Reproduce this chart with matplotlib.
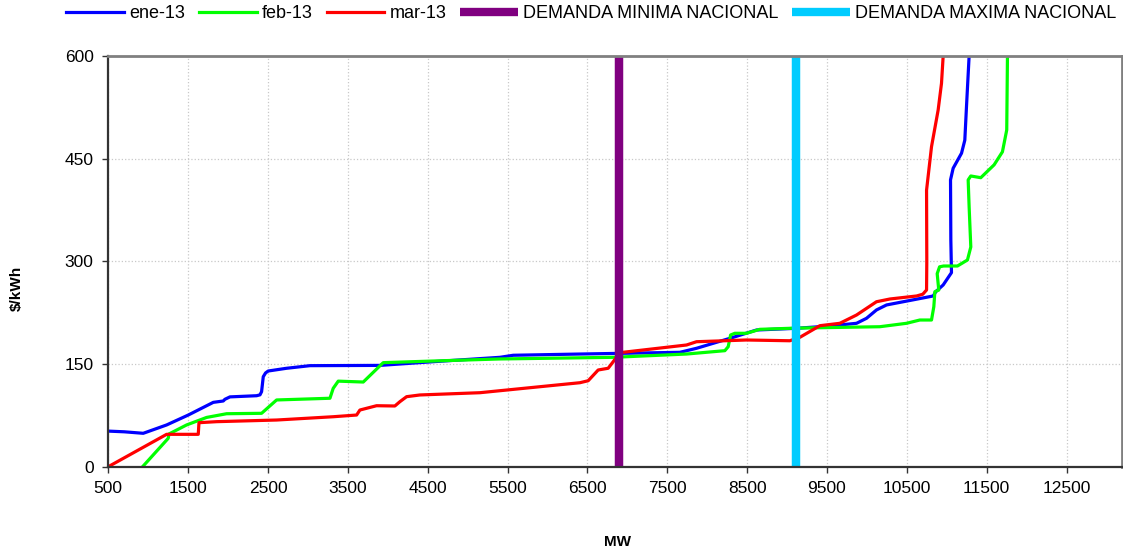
import matplotlib.pyplot as plt
from matplotlib.lines import Line2D

plt.rcParams['font.family'] = ['Liberation Sans', 'DejaVu Sans']

# curva de oferta por mes: MW acumulados vs precio ($/kWh)
ene_mw = [500, 700, 938, 1231, 1502, 1815, 1940, 1961, 2024, 2358, 2400, 2420, 2441, 2470, 2503, 2733,
          3025, 3902, 4569, 5404, 5571, 6406, 7658, 7867, 8325, 8618, 9119, 9536, 9870, 9995,
          10120, 10246, 10830, 10863, 10955, 11059, 11051, 11047, 11080, 11185, 11226, 11247, 11280]
ene_precio = [52, 51, 48.8, 61, 75.5, 94, 96, 98.5, 102, 103.7, 105, 109.6, 131.5, 137, 139.8, 143.8,
              147.6, 148, 153.4, 159.8, 162.8, 164.6, 167.1, 173, 189, 199.7, 202.2, 205.6, 209.5, 216.8,
              229, 236.3, 249.4, 255.7, 265.5, 283.5, 331, 419, 436, 458, 477, 526, 600]

feb_mw = [930, 1251, 1260, 1481, 1732, 1982, 2420, 2608, 3276, 3317, 3380, 3693, 3943, 4569,
          5404, 6823, 7741, 8221, 8263, 8293, 8346, 8493, 8659, 9119, 10162, 10496, 10663, 10809,
          10838, 10851, 10900, 10880, 10910, 10960, 11134, 11259, 11301, 11280, 11268, 11301, 11426,
          11593, 11697, 11751, 11760]
feb_precio = [0, 41.5, 47.8, 61, 72, 77.4, 78, 97.5, 100, 114.5, 125, 123.7, 152, 154.4,
              157.4, 159.8, 164.6, 169.5, 175.3, 192.4, 194.9, 194.9, 200.7, 202.5, 204.5, 209.5, 214.3, 214.3,
              233.8, 255.7, 258, 282, 292, 293.2, 293.2, 302, 321, 380, 419, 424.7, 422.2,
              441, 460, 492, 600]

mar_mw = [500, 1231, 1627, 1636, 1857, 2608, 3317, 3610, 3651, 3860, 4089, 4152, 4236, 4402,
          5154, 6406, 6510, 6635, 6760, 6823, 6906, 7741, 7867, 8493, 9035, 9160, 9411, 9661,
          9870, 10120, 10288, 10622, 10700, 10747, 10750, 10747, 10809, 10892, 10934, 10955]
mar_precio = [0, 47.3, 47.3, 64.3, 65.8, 68.2, 73, 75.5, 82.8, 89.1, 88.7, 95, 102.3, 104.8,
              108.1, 122.7, 125.6, 141.3, 143.8, 153.4, 166.6, 177.8, 182.6, 185.1, 184, 189, 206, 209.5,
              221.6, 241, 245, 249.4, 252, 258.2, 300, 404, 467.5, 521, 560, 600]

demanda_min = 6890
demanda_max = 9110

x_ticks = list(range(500, 13000, 1000))
y_ticks = [0, 150, 300, 450, 600]

fig = plt.figure(figsize=(11.23, 5.56), dpi=100)
ax = fig.add_axes([0.0964, 0.1606, 0.9024, 0.7387])

ax.plot(ene_mw, ene_precio, color='#0000FF', lw=2.3, label='ene-13')
ax.plot(feb_mw, feb_precio, color='#00FF00', lw=2.3, label='feb-13')
ax.plot(mar_mw, mar_precio, color='#FF0000', lw=2.3, label='mar-13')
ax.plot([demanda_min, demanda_min], [0, 600], color='#800080', lw=6.1, solid_capstyle='butt')
ax.plot([demanda_max, demanda_max], [0, 600], color='#00CCFF', lw=6.1, solid_capstyle='butt')

ax.set_xlim(500, 13190)
ax.set_ylim(0, 600)
ax.set_xticks(x_ticks)
ax.set_yticks(y_ticks)
ax.tick_params(labelsize=12.5, direction='out', length=4.5, width=1, color='#333333', pad=6)
ax.grid(True, color='#c8c8c8', ls=':', lw=0.9)
ax.set_axisbelow(True)

for s in ['left', 'bottom']:
    ax.spines[s].set_color('#333333')
    ax.spines[s].set_linewidth(1.6)
for s in ['top', 'right']:
    ax.spines[s].set_color('#808080')
    ax.spines[s].set_linewidth(2)

fig.text(617 / 1123, 1 - 542 / 556, 'MW', ha='center', va='center', fontsize=11, fontweight='bold')
fig.text(17 / 1123, 1 - 288 / 556, '$/kWh', ha='center', va='center', rotation=90,
         fontsize=11, fontweight='bold')

handles = [
    Line2D([], [], color='#0000FF', lw=2.3),
    Line2D([], [], color='#00FF00', lw=2.3),
    Line2D([], [], color='#FF0000', lw=2.3),
    Line2D([], [], color='#800080', lw=6, solid_capstyle='butt'),
    Line2D([], [], color='#00CCFF', lw=6, solid_capstyle='butt'),
]
labels = ['ene-13', 'feb-13', 'mar-13', 'DEMANDA MINIMA NACIONAL', 'DEMANDA MAXIMA NACIONAL']
fig.legend(handles, labels, loc='center', bbox_to_anchor=(591.5 / 1123, 1 - 14 / 556), ncol=5,
           frameon=False, fontsize=13, handlelength=3.2, handletextpad=0.3, columnspacing=0.75,
           borderpad=0, borderaxespad=0)

fig.savefig('out.png', dpi=100)
